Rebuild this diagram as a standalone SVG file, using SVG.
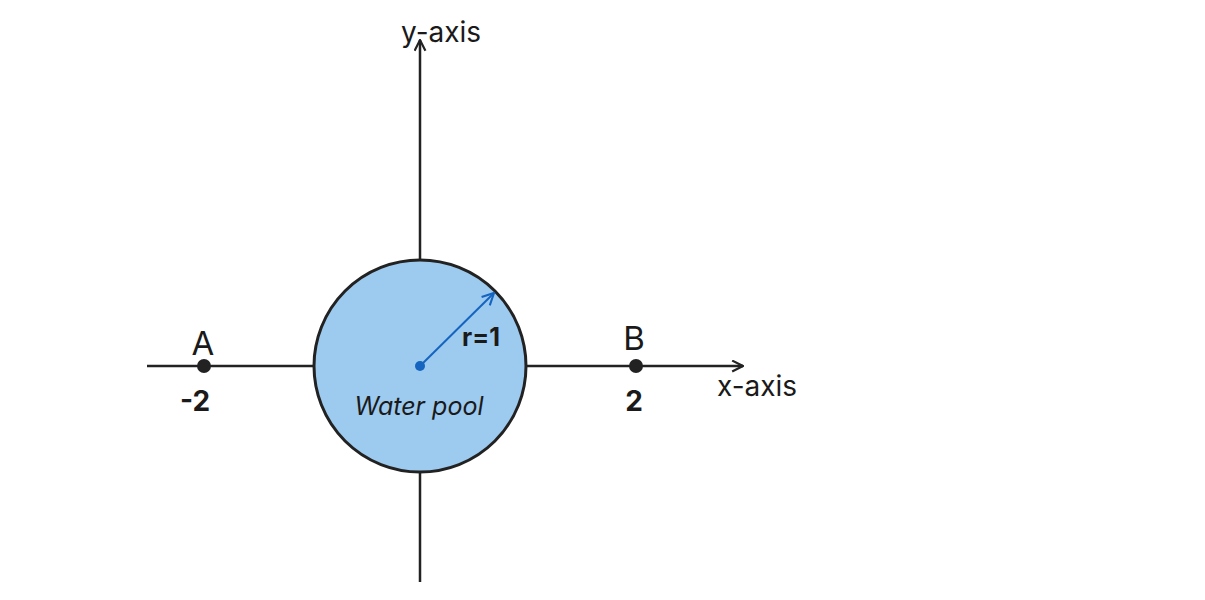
<svg xmlns="http://www.w3.org/2000/svg" width="1205" height="600" viewBox="0 0 1205 600">
<style>
.ax{stroke:#222;stroke-width:2.5;fill:none}
.t{font-family:Inter,"Liberation Sans",sans-serif;fill:#1a1a1a}
.lbl{font-size:28px}
.pt{font-size:33px}
.num{font-size:28px;font-weight:bold}
</style>
<defs>
<marker id="open" viewBox="0 0 12 12" refX="11" refY="6" markerWidth="13" markerHeight="13" markerUnits="userSpaceOnUse" orient="auto">
<path d="M1,1 L11,6 L1,11" fill="none" stroke="#222" stroke-width="2"/>
</marker>
<marker id="openb" viewBox="0 0 12 12" refX="11" refY="6" markerWidth="14" markerHeight="14" markerUnits="userSpaceOnUse" orient="auto">
<path d="M1,1 L11,6 L1,11" fill="none" stroke="#1565C0" stroke-width="1.8"/>
</marker>
</defs>
<rect width="1205" height="600" fill="#fff"/>
<g id="connectors">
<line class="ax" x1="147" y1="366" x2="743" y2="366" marker-end="url(#open)"/>
<line class="ax" x1="420" y1="582" x2="420" y2="40" marker-end="url(#open)"/>
</g>
<g id="pool">
<circle cx="420" cy="366" r="106" fill="#9DCAEF" stroke="#222" stroke-width="3"/>
<line x1="420" y1="366" x2="494" y2="293" stroke="#1565C0" stroke-width="2" marker-end="url(#openb)"/>
<circle cx="420" cy="366" r="5" fill="#1565C0"/>
<text class="t" x="481" y="346" font-size="25" font-weight="bold" text-anchor="middle">r=1</text>
<text class="t" x="419" y="415" font-size="25" font-style="italic" text-anchor="middle">Water pool</text>
</g>
<g id="pointA">
<circle cx="204" cy="366" r="7" fill="#222"/>
<text class="t pt" x="203" y="355" text-anchor="middle">A</text>
<text class="t num" x="195" y="411" text-anchor="middle">-2</text>
</g>
<g id="pointB">
<circle cx="636" cy="366" r="7" fill="#222"/>
<text class="t pt" x="634" y="350" text-anchor="middle">B</text>
<text class="t num" x="634" y="411" text-anchor="middle">2</text>
</g>
<g id="xlabel"><text class="t lbl" x="717" y="396">x-axis</text></g>
<g id="ylabel"><text class="t lbl" x="401" y="42">y-axis</text></g>
</svg>
